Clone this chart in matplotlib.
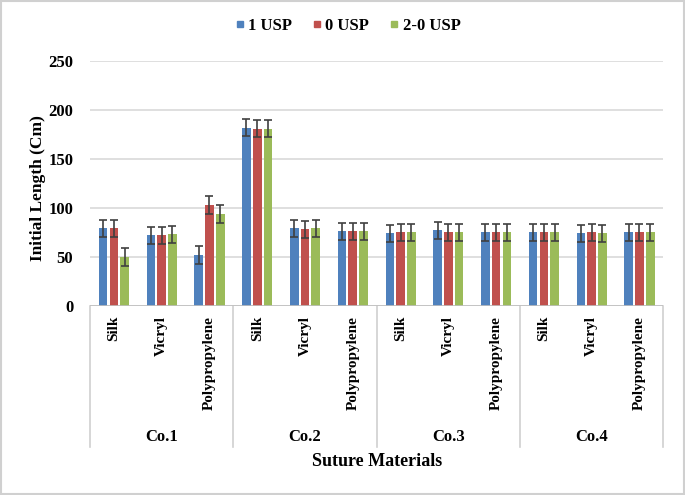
import matplotlib
matplotlib.use("Agg")
import matplotlib.pyplot as plt
import matplotlib.transforms as mtrans
from matplotlib.lines import Line2D
from matplotlib.patches import Rectangle
import numpy as np

plt.rcParams['font.family'] = ['Liberation Serif', 'DejaVu Serif']
plt.rcParams['font.weight'] = 'bold'

groups = ['Co.1', 'Co.2', 'Co.3', 'Co.4']
materials = ['Silk', 'Vicryl', 'Polypropylene']
series = ['1 USP', '0 USP', '2-0 USP']
colors = ['#4f81bd', '#c0504d', '#9bbb59']

usp1 = [79, 72, 52, 182, 79, 76, 74, 77, 75, 75, 74, 75]
usp0 = [79, 72, 103, 181, 78, 76, 75, 75, 75, 75, 75, 75]
usp20 = [50, 73, 94, 181, 79, 76, 75, 75, 75, 75, 74, 75]
err1 = [9, 9, 9, 9, 9, 9, 9, 9, 9, 9, 9, 9]
err0 = [9, 9, 9, 9, 9, 9, 9, 9, 9, 9, 9, 9]
err20 = [9, 9, 9, 9, 9, 9, 9, 9, 9, 9, 9, 9]

values = [usp1, usp0, usp20]
errors = [err1, err0, err20]

fig = plt.figure(figsize=(6.85, 4.95), dpi=100)
ax = fig.add_axes([0.1314, 0.382, 0.837, 0.495])

x = np.arange(len(usp1))
offs = [-0.225, 0, 0.225]
for i in range(3):
    ax.bar(x + offs[i], values[i], 0.18, color=colors[i], label=series[i],
           yerr=errors[i], capsize=3,
           error_kw=dict(ecolor='#404040', elinewidth=1.2, capthick=1.2),
           zorder=3)

ax.set_xlim(-0.5, 11.5)
ax.set_ylim(0, 250)
ax.set_yticks(range(0, 251, 50))
ax.yaxis.grid(True, color='#d9d9d9', linewidth=1.2, zorder=0)
for s in ax.spines.values():
    s.set_visible(False)
ax.tick_params(axis='y', length=0, labelsize=12, pad=12)
ax.tick_params(axis='x', length=0)
ax.set_xticks([])
for lab in ax.get_yticklabels():
    lab.set_fontweight('bold')

ax.axhline(0, color='#bfbfbf', linewidth=1.2, zorder=4)

tr = mtrans.blended_transform_factory(ax.transData, ax.transAxes)
for k in range(len(usp1)):
    ax.text(k, -0.04, materials[k % 3], transform=tr, rotation=90,
            ha='center', va='top', fontsize=11, fontweight='bold')
for g in range(4):
    ax.text(g * 3 + 1, -0.535, groups[g], transform=tr, ha='center',
            va='center', fontsize=12, fontweight='bold')
for b in [-0.5, 2.5, 5.5, 8.5, 11.5]:
    ax.add_line(Line2D([b, b], [0, -0.575], transform=tr, color='#d0d0d0',
                       linewidth=1.2, clip_on=False))

fig.text(0.55, 0.067, 'Suture Materials', ha='center', va='center',
         fontsize=13, fontweight='bold')
fig.text(0.055, 0.62, 'Initial Length (Cm)', rotation=90, ha='center',
         va='center', fontsize=12.5, fontweight='bold')

handles = [Line2D([], [], marker='s', linestyle='', color=c, markersize=5)
           for c in colors]
fig.legend(handles, series, loc='center', bbox_to_anchor=(0.505, 0.948),
           ncol=3, frameon=False, handletextpad=0.0, handlelength=1.0,
           columnspacing=1.0, prop={'weight': 'bold', 'size': 12})

fig.patches.append(Rectangle((0.002, 0.002), 0.996, 0.996,
                             transform=fig.transFigure, fill=False,
                             edgecolor='#d0d0d0', linewidth=1.5))

fig.savefig('out.png', dpi=100)
